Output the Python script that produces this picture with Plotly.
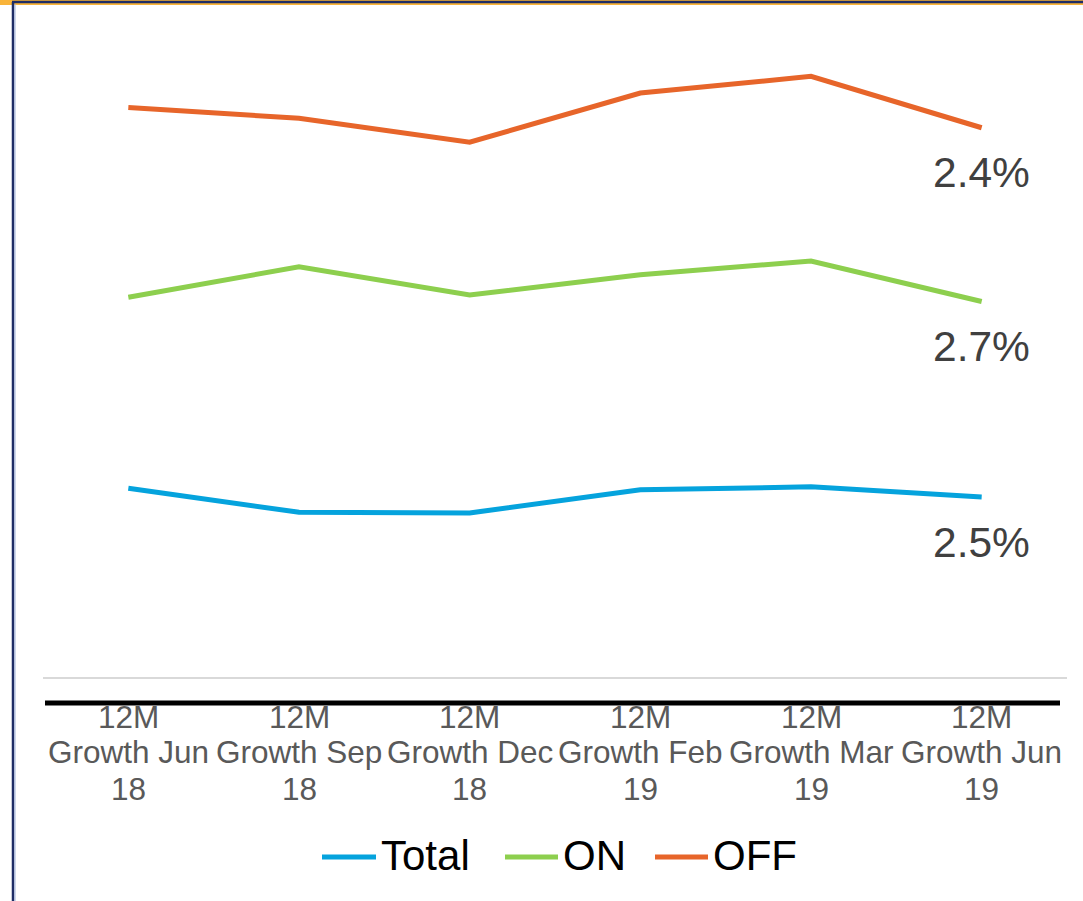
import plotly.graph_objects as go

# Category labels (12-month growth periods)
categories = [
    "12M<br>Growth Jun<br>18",
    "12M<br>Growth Sep<br>18",
    "12M<br>Growth Dec<br>18",
    "12M<br>Growth Feb<br>19",
    "12M<br>Growth Mar<br>19",
    "12M<br>Growth Jun<br>19",
]

# Series values (%), stacked in this order: Total, ON, OFF
total = [2.62, 2.29, 2.28, 2.60, 2.64, 2.50]
on = [2.64, 3.39, 3.01, 2.97, 3.12, 2.70]
off = [2.62, 2.05, 2.11, 2.51, 2.55, 2.40]

series_names = ["Total", "ON", "OFF"]
series_values = [total, on, off]
series_colors = ["#05A3DD", "#8DCF4E", "#E7652A"]

W, H = 1083, 901
PL, PR, PT, PB = 43, 1067, 15, 703  # plot area in pixels
ZERO_PX = 678
PX_PER_UNIT = 72.4
FONT = "Liberation Sans, Arial"


def xp(px):
    return (px - PL) / (PR - PL)


def yp(py):
    return (PB - py) / (PB - PT)


fig = go.Figure()
for name, vals, col in zip(series_names, series_values, series_colors):
    fig.add_trace(go.Scatter(
        x=categories, y=vals, name=name, mode="lines",
        stackgroup="s", fill="none",
        line=dict(color=col, width=5),
        showlegend=False,
    ))

annotations = []

# End-of-line value labels, placed under the last point of each stacked line
cum = 0.0
for name, vals in zip(series_names, series_values):
    cum += vals[-1]
    annotations.append(dict(
        x=categories[-1], y=cum, xref="x", yref="y",
        text=f"{vals[-1]:.1f}%", showarrow=False,
        yshift=-45, xanchor="center", yanchor="middle",
        font=dict(family=FONT, size=42.5, color="#404040"),
    ))

# Category labels, one text line at a time for tight line spacing
line_centers = [717, 752, 789]
for cat in categories:
    for part, cy in zip(cat.split("<br>"), line_centers):
        annotations.append(dict(
            x=cat, y=yp(cy), xref="x", yref="paper",
            text=part, showarrow=False, xanchor="center", yanchor="middle",
            font=dict(family=FONT, size=31.5, color="#595959"),
        ))

# Legend drawn as line samples with labels
legend_items = [(322, 376, 379), (505, 558, 561), (655, 708, 711)]
shapes = []
for (x0, x1, tx), name, col in zip(legend_items, series_names, series_colors):
    shapes.append(dict(type="line", xref="paper", yref="paper",
                       x0=xp(x0), x1=xp(x1), y0=yp(857), y1=yp(857),
                       line=dict(color=col, width=5)))
    annotations.append(dict(
        x=xp(tx), y=yp(855), xref="paper", yref="paper",
        text=name, showarrow=False, xanchor="left", yanchor="middle",
        font=dict(family=FONT, size=42, color="#000000"),
    ))

# Heavy category axis line
shapes.append(dict(type="line", xref="paper", yref="paper",
                   x0=xp(45), x1=xp(1060), y0=yp(703), y1=yp(703),
                   line=dict(color="#000000", width=5)))

# Page frame: top accent strip and navy rules
shapes.append(dict(type="rect", xref="paper", yref="paper",
                   x0=xp(0), x1=xp(W), y0=yp(0), y1=yp(5),
                   line=dict(width=0), fillcolor="#F9B43A", layer="above"))
shapes.append(dict(type="line", xref="paper", yref="paper",
                   x0=xp(12), x1=xp(W), y0=yp(2), y1=yp(2),
                   line=dict(color="#1F2D66", width=2.5), layer="above"))
shapes.append(dict(type="line", xref="paper", yref="paper",
                   x0=xp(13), x1=xp(13), y0=yp(2), y1=yp(H),
                   line=dict(color="#1F2D66", width=2.5), layer="above"))
shapes.append(dict(type="line", xref="paper", yref="paper",
                   x0=xp(15), x1=xp(15), y0=yp(4), y1=yp(H),
                   line=dict(color="#9FB0DA", width=1), layer="above"))

ymin = (ZERO_PX - PB) / PX_PER_UNIT
ymax = (ZERO_PX - PT) / PX_PER_UNIT

fig.update_layout(
    width=W, height=H,
    margin=dict(l=PL, r=W - PR, t=PT, b=H - PB, pad=0),
    paper_bgcolor="white", plot_bgcolor="white",
    showlegend=False,
    font=dict(family=FONT, color="#595959"),
    xaxis=dict(
        type="category", range=[-0.5, 5.5],
        showgrid=False, zeroline=False, showline=False,
        ticks="", showticklabels=False,
        fixedrange=True,
    ),
    yaxis=dict(
        range=[ymin, ymax], showgrid=False, showticklabels=False,
        zeroline=True, zerolinecolor="#D9D9D9", zerolinewidth=1.5,
        showline=False, ticks="", fixedrange=True,
    ),
    shapes=shapes,
    annotations=annotations,
)

fig.write_html("out.html")
